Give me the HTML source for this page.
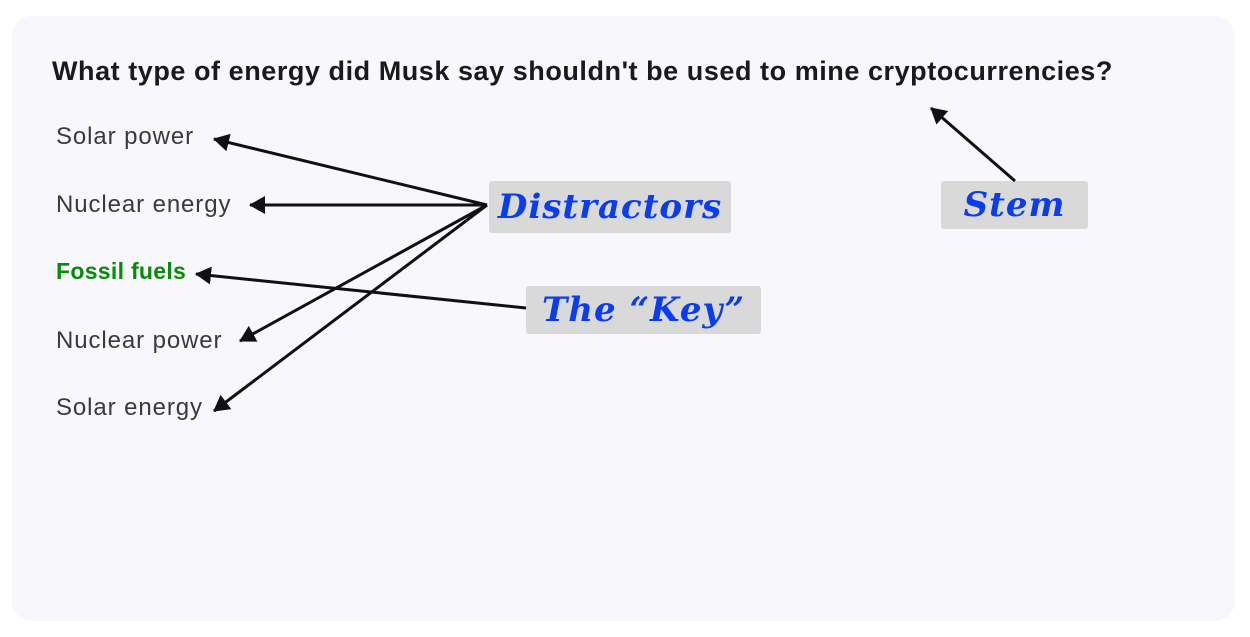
<!DOCTYPE html>
<html><head><style>
body{margin:0;width:1250px;height:637px;background:#fff;position:relative;overflow:hidden;font-family:"Liberation Sans",sans-serif}
.card{position:absolute;left:12px;top:16px;width:1223px;height:605px;background:#f7f7fc;border-radius:20px}
.t{position:absolute;white-space:nowrap}
.q{left:52px;top:56px;font-size:27px;font-weight:bold;color:#1a1a1a;letter-spacing:0.55px}
.o{left:56px;font-size:24px;color:#3a3a3a;letter-spacing:0.9px}
.box{position:absolute;background:#d9d9d9;border-radius:3px;color:#0a3cf0;font-family:"DejaVu Serif","Liberation Serif",serif;font-weight:bold;font-style:italic;font-size:34px;display:flex;align-items:center;justify-content:center}
</style></head><body>
<div class="card"></div>
<div class="t q">What type of energy did Musk say shouldn't be used to mine cryptocurrencies?</div>
<div class="t o" style="top:123px">Solar power</div>
<div class="t o" style="top:191px">Nuclear energy</div>
<div class="t o" style="top:258px;color:#0a8a0a;font-weight:bold;letter-spacing:0.3px;font-size:23px">Fossil fuels</div>
<div class="t o" style="top:327px">Nuclear power</div>
<div class="t o" style="top:394px">Solar energy</div>
<div class="box" style="left:489px;top:181px;width:242px;height:52px;letter-spacing:1px">Distractors</div>
<div class="box" style="left:526px;top:286px;width:235px;height:48px;letter-spacing:1px">The “Key”</div>
<div class="box" style="left:941px;top:181px;width:147px;height:48px;letter-spacing:1px">Stem</div>
<svg width="1250" height="637" style="position:absolute;left:0;top:0">
<defs>
<marker id="b" markerWidth="16" markerHeight="18" refX="15" refY="9" orient="auto" markerUnits="userSpaceOnUse"><path d="M0,0 L16,9 L0,18Z" fill="#111"/></marker></defs>
<g stroke="#111" stroke-width="3" fill="none" marker-end="url(#b)">
<line x1="487" y1="205" x2="214" y2="139"/>
<line x1="487" y1="205" x2="250" y2="205"/>
<line x1="487" y1="205" x2="240" y2="341"/>
<line x1="487" y1="205" x2="214" y2="411"/>
<line x1="526" y1="308" x2="196" y2="274"/>
<line x1="1015" y1="181" x2="931" y2="108"/>
</g></svg>
</body></html>
